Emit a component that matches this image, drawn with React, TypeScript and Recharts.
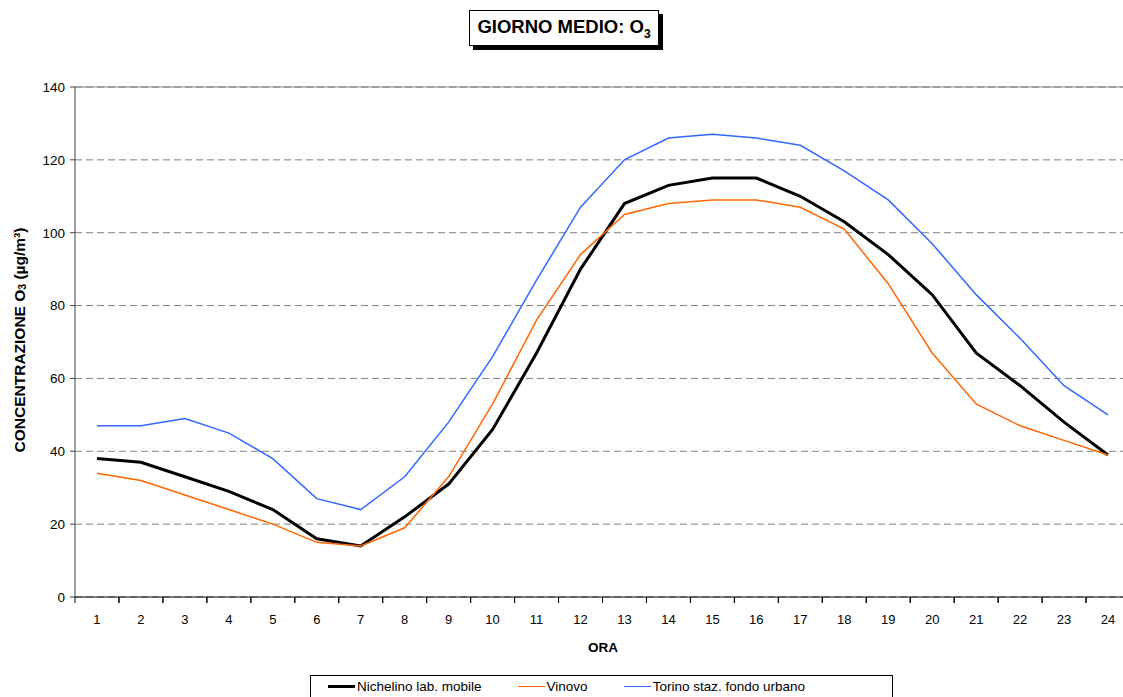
import { CartesianGrid, Line, LineChart, ReferenceLine, XAxis, YAxis } from "recharts";

const HOURS = [1, 2, 3, 4, 5, 6, 7, 8, 9, 10, 11, 12, 13, 14, 15, 16, 17, 18, 19, 20, 21, 22, 23, 24];
const NICHELINO = [38, 37, 33, 29, 24, 16, 14, 22, 31, 46, 67, 90, 108, 113, 115, 115, 110, 103, 94, 83, 67, 58, 48, 39];
const VINOVO = [34, 32, 28, 24, 20, 15, 14, 19, 33, 53, 76, 94, 105, 108, 109, 109, 107, 101, 86, 67, 53, 47, 43, 39];
const TORINO = [47, 47, 49, 45, 38, 27, 24, 33, 48, 66, 87, 107, 120, 126, 127, 126, 124, 117, 109, 97, 83, 71, 58, 50];
const Y_TICKS = [0, 20, 40, 60, 80, 100, 120, 140];

const SERIES = [
  { key: "nichelino", name: "Nichelino lab. mobile", color: "#000000", width: 3 },
  { key: "vinovo", name: "Vinovo", color: "#FF6600", width: 1.5 },
  { key: "torino", name: "Torino staz. fondo urbano", color: "#3366FF", width: 1.5 },
];

const data = HOURS.map((h, i) => ({
  hour: h,
  nichelino: NICHELINO[i],
  vinovo: VINOVO[i],
  torino: TORINO[i],
}));

const W = 1123;
const H = 697;
const LEFT = 75;
// plot area runs a little past the right edge of the picture, as in the original
const RIGHT = -7;
const HALF = (W - LEFT - RIGHT) / HOURS.length / 2;
const FONT = "'Liberation Sans', Arial, sans-serif";

function HourTick(props: any) {
  const { x, y, payload } = props;
  return (
    <g>
      <line x1={x - HALF} y1={y} x2={x - HALF} y2={y + 6} stroke="#000" />
      <line x1={x + HALF} y1={y} x2={x + HALF} y2={y + 6} stroke="#000" />
      <text x={x} y={y + 27} textAnchor="middle" fontSize={13} fill="#000" fontFamily={FONT}>
        {payload.value}
      </text>
    </g>
  );
}

function YTitle(props: any) {
  const { viewBox } = props;
  const cx = 19;
  const cy = viewBox.y + viewBox.height / 2 - 2;
  return (
    <text
      x={cx}
      y={cy}
      transform={`rotate(-90 ${cx} ${cy})`}
      textAnchor="middle"
      dominantBaseline="central"
      fontSize={15.5}
      fontWeight="bold"
      fontFamily={FONT}
      fill="#000"
    >
      CONCENTRAZIONE O<tspan dy={3} fontSize={10.5}>3</tspan>
      <tspan dy={-3}> (µg/m³)</tspan>
    </text>
  );
}

function XTitle(props: any) {
  const { viewBox } = props;
  return (
    <text
      x={603}
      y={viewBox.y + 55}
      textAnchor="middle"
      fontSize={13.5}
      fontWeight="bold"
      fontFamily={FONT}
      fill="#000"
    >
      ORA
    </text>
  );
}

export default function App() {
  return (
    <div style={{ position: "absolute", left: 0, top: 0, width: W, height: H, background: "#fff", fontFamily: FONT, overflow: "hidden" }}>
      <LineChart width={W} height={H} data={data} margin={{ top: 87, right: RIGHT, bottom: 70, left: 0 }}>
        <CartesianGrid vertical={false} stroke="#808080" strokeDasharray="7 4" />
        <ReferenceLine y={140} stroke="#808080" />
        <XAxis
          dataKey="hour"
          type="number"
          domain={[0.5, 24.5]}
          ticks={HOURS}
          interval={0}
          tickLine={false}
          tickSize={0}
          tickMargin={0}
          height={30}
          axisLine={{ stroke: "#000" }}
          tick={<HourTick />}
          label={<XTitle />}
        />
        <YAxis
          domain={[0, 140]}
          ticks={Y_TICKS}
          width={LEFT}
          tickSize={5}
          tickMargin={5}
          axisLine={{ stroke: "#404040" }}
          tickLine={{ stroke: "#404040" }}
          tick={{ fontSize: 13.5, fill: "#000", fontFamily: FONT }}
          label={<YTitle />}
        />
        {SERIES.map((s) => (
          <Line
            key={s.key}
            dataKey={s.key}
            name={s.name}
            stroke={s.color}
            strokeWidth={s.width}
            dot={false}
            isAnimationActive={false}
          />
        ))}
      </LineChart>

      <div
        style={{
          position: "absolute",
          left: 469,
          top: 10,
          width: 190,
          height: 36,
          border: "1px solid #000",
          boxShadow: "4px 4px 0 #000",
          background: "#fff",
          boxSizing: "border-box",
          display: "flex",
          alignItems: "center",
          justifyContent: "center",
          fontWeight: "bold",
          fontSize: 18.5,
        }}
      >
        <span>
          GIORNO MEDIO: O<sub style={{ fontSize: 12 }}>3</sub>
        </span>
      </div>

      <div
        style={{
          position: "absolute",
          left: 310,
          top: 675,
          width: 583,
          height: 30,
          border: "1px solid #000",
          boxSizing: "border-box",
          display: "flex",
          alignItems: "flex-start",
          paddingTop: 3,
          paddingLeft: 17,
          gap: 36,
          fontSize: 13.5,
        }}
      >
        {SERIES.map((s) => (
          <div key={s.key} style={{ display: "flex", alignItems: "center", gap: 2 }}>
            <div style={{ width: 27, height: s.width, background: s.color }} />
            <span>{s.name}</span>
          </div>
        ))}
      </div>
    </div>
  );
}
